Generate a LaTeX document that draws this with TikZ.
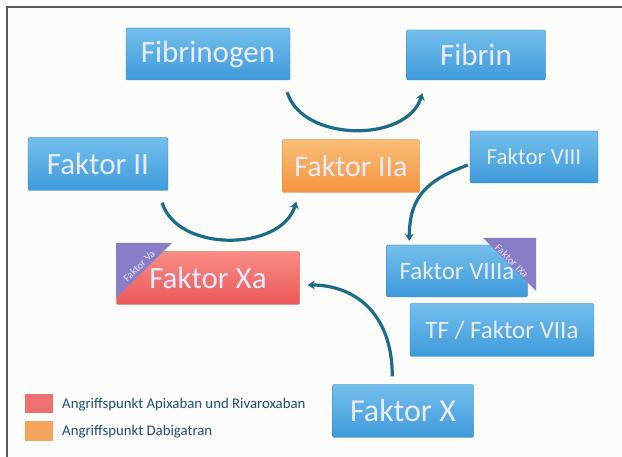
\documentclass[tikz,border=0pt]{standalone}
\usepackage{fontspec}
\setmainfont{Carlito}
\usetikzlibrary{arrows.meta}
\definecolor{boxblau}{HTML}{3E9ADB}
\definecolor{boxblauhell}{HTML}{74BFEC}
\definecolor{boxorange}{HTML}{F3943E}
\definecolor{boxorangehell}{HTML}{F9BE78}
\definecolor{boxrot}{HTML}{EA5858}
\definecolor{boxrothell}{HTML}{F98C84}
\definecolor{lila}{HTML}{7D6FC2}
\definecolor{pfeil}{HTML}{1B6C8C}
\definecolor{legtext}{HTML}{1F4E79}
\definecolor{hinter}{HTML}{FCFCFA}
\tikzset{
  kasten/.style={rounded corners=2pt, text=white!92!blue, inner sep=0pt, align=center},
  blau/.style={kasten, top color=boxblauhell, bottom color=boxblau, draw=boxblau!80!black, line width=0.4pt},
  orange/.style={kasten, top color=boxorangehell, bottom color=boxorange, draw=boxorange!85!black, line width=0.4pt},
  rot/.style={kasten, top color=boxrothell, bottom color=boxrot, draw=boxrot!85!black, line width=0.4pt},
  ecke/.style={text=white!80!lila, inner sep=0pt, font=\fontsize{10.5}{11}\selectfont},
  pf/.style={pfeil, line width=3.2pt, -{Stealth[length=7pt,width=9pt]}}
}
\begin{document}
\begin{tikzpicture}[x=1pt,y=-1pt]
        % Rahmen und Hintergrund
        \useasboundingbox (0,0) rectangle (622,457);
        \fill[white] (0,0) rectangle (622,457);
        \fill[hinter] (7,7) rectangle (622,457);
        \draw[gray!70!black, line width=1.4pt] (7,457) -- (7,7) -- (622,7);

        % Kaesten
        \node[blau, minimum width=164, minimum height=52, font=\fontsize{31}{33}\selectfont] (fibrinogen) at (208,54) {Fibrinogen};
        \node[blau, minimum width=139, minimum height=50, font=\fontsize{31}{33}\selectfont] (fibrin) at (476,55) {Fibrin};
        \node[blau, minimum width=140, minimum height=53, font=\fontsize{31}{33}\selectfont] (faktorII) at (98,164) {Faktor II};
        \node[orange, minimum width=137, minimum height=53, font=\fontsize{30}{32}\selectfont] (faktorIIa) at (351,166) {Faktor IIa};
        \node[blau, minimum width=128, minimum height=52, font=\fontsize{23}{25}\selectfont] (faktorVIII) at (534,157) {Faktor VIII};
        \node[rot, minimum width=183, minimum height=53, font=\fontsize{31}{33}\selectfont] (faktorXa) at (208,278) {Faktor Xa};
        \node[blau, minimum width=141, minimum height=52, font=\fontsize{25}{27}\selectfont] (faktorVIIIa) at (457,271) {Faktor VIIIa};
        \node[blau, minimum width=184, minimum height=53, font=\fontsize{25}{27}\selectfont] (tf) at (502,330) {TF / Faktor VIIa};
        \node[blau, minimum width=141, minimum height=53, font=\fontsize{32}{34}\selectfont] (faktorX) at (403,411) {Faktor X};

        % Dreiecke (Kofaktoren)
        \fill[lila!90] (116,243) -- (172,243) -- (116,298) -- cycle;
        \node[ecke, rotate=45] (faktorVa) at (139,266) {Faktor Va};
        \fill[lila!90] (483,238) -- (536,238) -- (536,291) -- cycle;
        \node[ecke, rotate=-45] (faktorIXa) at (512,261) {Faktor IXa};

        % Pfeile
        \draw[pf] ([shift={(-3,12)}]fibrinogen.south east) .. controls +(15,50) and +(-15,50) .. ([shift={(16,13)}]fibrin.south west);
        \draw[pf] ([shift={(-6,12)}]faktorII.south east) .. controls +(15,50) and +(-15,50) .. ([shift={(14,9)}]faktorIIa.south west);
        \draw[pf] ([shift={(-2,8)}]faktorVIII.west) .. controls +(-40,15) and +(0,-45) .. ([shift={(23,-4)}]faktorVIIIa.north west);
        \draw[pf] ([shift={(60,-8)}]faktorX.north west) .. controls +(0,-65) and +(45,0) .. ([shift={(8,7)}]faktorXa.east);

        % Legende
        \fill[boxrot!85] (25,394) rectangle (53,413);
        \fill[boxorange!85] (25,421) rectangle (53,441);
        \node[anchor=west, text=legtext, font=\fontsize{14.8}{16}\selectfont, inner sep=0pt] (legrot) at (62,405) {Angriffspunkt Apixaban und Rivaroxaban};
        \node[anchor=west, text=legtext, font=\fontsize{14.8}{16}\selectfont, inner sep=0pt] (legorange) at (62,432) {Angriffspunkt Dabigatran};
\end{tikzpicture}
\end{document}
